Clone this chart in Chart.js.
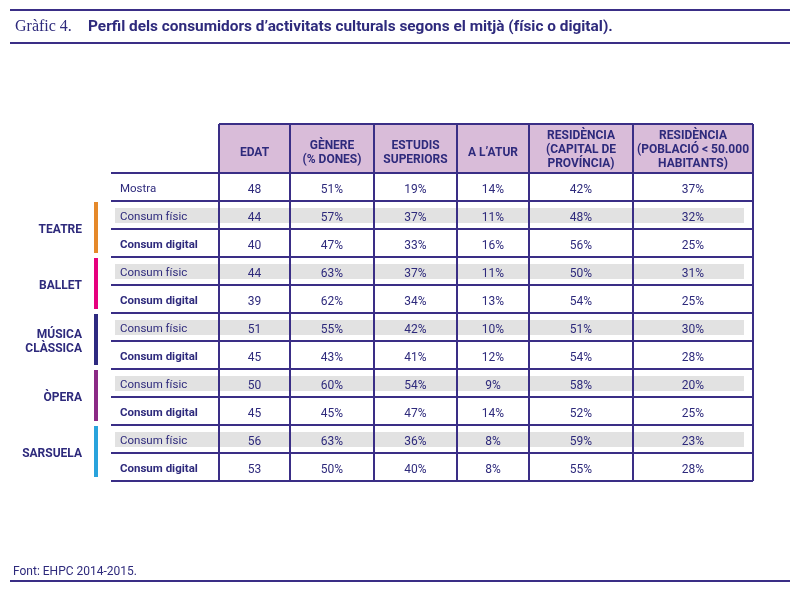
<!DOCTYPE html>
<html>
<head>
<meta charset="utf-8">
<script src="https://cdn.jsdelivr.net/npm/chart.js@4/dist/chart.umd.min.js"></script>
<style>
  html, body { margin: 0; padding: 0; background: #fff; }
  #wrap { width: 800px; height: 591px; }
</style>
</head>
<body>
<div id="wrap"><canvas id="c" width="800" height="591"></canvas></div>
<script>
// table content
const columns = [
  ['EDAT'],
  ['GÈNERE', '(% DONES)'],
  ['ESTUDIS', 'SUPERIORS'],
  ['A L\u2019ATUR'],
  ['RESIDÈNCIA', '(CAPITAL DE', 'PROVÍNCIA)'],
  ['RESIDÈNCIA', '(POBLACIÓ < 50.000', 'HABITANTS)']
]
const categories = [['TEATRE'], ['BALLET'], ['MÚSICA', 'CLÀSSICA'], ['ÒPERA'], ['SARSUELA']]
const sampleLabel = 'Mostra'
const physicalLabel = 'Consum físic'
const digitalLabel = 'Consum digital'

// first column is age, the rest are percentages
const mostra = [48, 51, 19, 14, 42, 37]
const fisic = [
  [44, 57, 37, 11, 48, 32],
  [44, 63, 37, 11, 50, 31],
  [51, 55, 42, 10, 51, 30],
  [50, 60, 54, 9, 58, 20],
  [56, 63, 36, 8, 59, 23]
]
const digital = [
  [40, 47, 33, 16, 56, 25],
  [39, 62, 34, 13, 54, 25],
  [45, 43, 41, 12, 54, 28],
  [45, 45, 47, 14, 52, 25],
  [53, 50, 40, 8, 55, 28]
]

const titleNum = 'Gràfic 4.'
const titleText = 'Perfil dels consumidors d\u2019activitats culturals segons el mitjà (físic o digital).'
const sourceText = 'Font: EHPC 2014-2015.'

// layout (design pixels)
const colEdges = [219, 290, 374, 457, 529, 633, 753]
const labelLeft = 111
const headTop = 124
const headBottom = 173
const rowH = 28
const catColors = ['#e5892a', '#e6007e', '#2e2a80', '#8b2a85', '#29a3dc']
const navy = '#2e2a7c'
const lineCol = '#3a2e86'
const headFill = '#d9bcd9'
const bandFill = '#e2e2e2'

function fmt(v, col){ return col === 0 ? String(v) : v + '%' }

// build rows: mostra, then fisic/digital per category
const rows = [{label: sampleLabel, vals: mostra, kind: 'sample'}]
categories.forEach((c, i) => {
  rows.push({label: physicalLabel, vals: fisic[i], kind: 'fisic', cat: i})
  rows.push({label: digitalLabel, vals: digital[i], kind: 'digital', cat: i})
})

const points = []
rows.forEach((r, ri) => {
  r.vals.forEach((v, ci) => {
    points.push({x: (colEdges[ci] + colEdges[ci + 1]) / 2, y: headBottom + ri * rowH + 17, t: fmt(v, ci)})
  })
})

const tablePlugin = {
  id: 'table',
  beforeDatasetsDraw(chart){
    const {ctx, scales: {x, y}} = chart
    const X = v => x.getPixelForValue(v)
    const Y = v => y.getPixelForValue(v)
    const R = colEdges[colEdges.length - 1]
    ctx.save()
    ctx.fillStyle = '#fff'
    ctx.fillRect(0, 0, chart.width, chart.height)

    // top rules and title
    ctx.fillStyle = lineCol
    ctx.fillRect(X(10), Y(9), X(790) - X(10), 2)
    ctx.fillRect(X(10), Y(42), X(790) - X(10), 2)
    ctx.fillRect(X(10), Y(580), X(790) - X(10), 2)
    ctx.textBaseline = 'alphabetic'
    ctx.textAlign = 'left'
    ctx.fillStyle = navy
    ctx.font = '16px "Liberation Serif", serif'
    ctx.fillText(titleNum, X(15), Y(31))
    ctx.font = 'bold 15.4px Roboto, sans-serif'
    ctx.fillText(titleText, X(88), Y(31))
    ctx.font = '12px Roboto, sans-serif'
    ctx.fillText(sourceText, X(13), Y(575))

    // grey bands on physical rows
    ctx.fillStyle = bandFill
    rows.forEach((r, ri) => {
      if(r.kind !== 'fisic') return
      const top = headBottom + ri * rowH
      ctx.fillRect(X(115), Y(top + 7), X(744) - X(115), Y(top + 22) - Y(top + 7))
    })

    // header fill
    ctx.fillStyle = headFill
    ctx.fillRect(X(colEdges[0]), Y(headTop), X(R) - X(colEdges[0]), Y(headBottom) - Y(headTop))

    // grid
    const bottom = headBottom + rows.length * rowH
    ctx.strokeStyle = lineCol
    ctx.lineWidth = 2
    ctx.beginPath()
    ctx.moveTo(X(colEdges[0]), Y(headTop)); ctx.lineTo(X(R), Y(headTop))
    for(let i = 0; i <= rows.length; i++){
      const yy = Y(headBottom + i * rowH)
      ctx.moveTo(X(labelLeft), yy); ctx.lineTo(X(R), yy)
    }
    colEdges.forEach(e => { ctx.moveTo(X(e), Y(headTop)); ctx.lineTo(X(e), Y(bottom)) })
    ctx.stroke()

    // header text
    ctx.fillStyle = navy
    ctx.textAlign = 'center'
    ctx.textBaseline = 'middle'
    ctx.font = 'bold 12px Roboto, sans-serif'
    columns.forEach((lines, ci) => {
      const cx = (colEdges[ci] + colEdges[ci + 1]) / 2
      const mid = lines.length === 3 ? 150 : 153
      lines.forEach((ln, li) => {
        ctx.fillText(ln, X(cx), Y(mid + (li - (lines.length - 1) / 2) * 14))
      })
    })

    // row labels
    ctx.textAlign = 'left'
    rows.forEach((r, ri) => {
      ctx.font = (r.kind === 'digital' ? 'bold ' : '') + '11.5px Roboto, sans-serif'
      ctx.fillText(r.label, X(120), Y(headBottom + ri * rowH + 16))
    })

    // category bars and names
    categories.forEach((lines, i) => {
      const top = headBottom + (1 + i * 2) * rowH
      ctx.fillStyle = catColors[i]
      ctx.fillRect(X(94), Y(top + 1), X(98) - X(94), Y(top + 2 * rowH - 4) - Y(top + 1))
      ctx.fillStyle = navy
      ctx.font = 'bold 12px Roboto, sans-serif'
      ctx.textAlign = 'right'
      lines.forEach((ln, li) => {
        ctx.fillText(ln, X(82), Y(top + rowH + 1 + (li - (lines.length - 1) / 2) * 13.5))
      })
    })
    ctx.restore()
  },
  afterDatasetsDraw(chart){
    const {ctx} = chart
    const meta = chart.getDatasetMeta(0)
    ctx.save()
    ctx.fillStyle = navy
    ctx.font = '12px Roboto, sans-serif'
    ctx.textAlign = 'center'
    ctx.textBaseline = 'middle'
    meta.data.forEach((pt, i) => {
      ctx.fillText(points[i].t, pt.x, pt.y)
    })
    ctx.restore()
  }
}

new Chart(document.getElementById('c'), {
  type: 'scatter',
  data: {
    datasets: [{
      data: points,
      pointRadius: 0,
      pointHoverRadius: 0
    }]
  },
  options: {
    responsive: false,
    animation: false,
    devicePixelRatio: 1,
    layout: {padding: 0},
    events: [],
    plugins: {legend: {display: false}, tooltip: {enabled: false}},
    scales: {
      x: {type: 'linear', min: 0, max: 800, display: false},
      y: {type: 'linear', min: 0, max: 591, reverse: true, display: false}
    }
  },
  plugins: [tablePlugin]
})
</script>
</body>
</html>
